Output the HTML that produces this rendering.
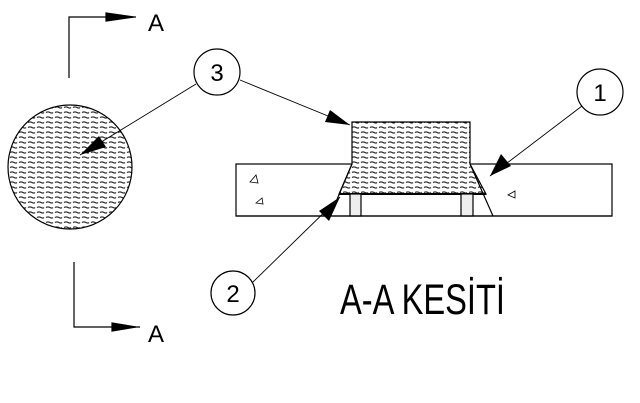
<!DOCTYPE html>
<html><head><meta charset="utf-8"><style>
html,body{margin:0;padding:0;background:#fff;width:640px;height:403px;overflow:hidden}
svg{display:block}
</style></head><body>
<svg width="640" height="403" viewBox="0 0 640 403" xmlns="http://www.w3.org/2000/svg">
<defs>
<pattern id="h" width="9" height="5" patternUnits="userSpaceOnUse">
<rect width="9" height="5" fill="#fff"/>
<path d="M1 2.5 Q3 1.3 5 2.5 T8 2.5" stroke="#222" stroke-width="1.1" fill="none"/>
</pattern>
</defs>
<g stroke="#000" fill="none" stroke-width="1.2">
<polyline points="69,78 69,17 136,17"/>
<polygon points="106,13 134,17 106,21" fill="#000"/>
<polyline points="74,262 74,327 140,327"/>
<polygon points="112,323 136,327 112,331" fill="#000"/>
<circle cx="70" cy="167" r="62" fill="url(#h)"/>
<rect x="236" y="164" width="376" height="52" fill="#fff"/>
<path d="M352,122 H470 V164 L486,194 H339 L352,164 Z" fill="url(#h)"/>
<line x1="352" y1="164" x2="330" y2="216"/>
<line x1="470" y1="164" x2="493" y2="216"/>
<line x1="339" y1="194" x2="486" y2="194" stroke-width="2"/>
<rect x="350" y="194" width="11" height="22" fill="#eee"/>
<rect x="461" y="194" width="12" height="22" fill="#eee"/>
<line x1="236" y1="216" x2="612" y2="216"/>
<circle cx="217" cy="72" r="23" fill="#fff"/>
<circle cx="600" cy="92" r="23" fill="#fff"/>
<circle cx="233" cy="293" r="22" fill="#fff"/>
<g stroke-width="0.9">
<line x1="196" y1="84" x2="80" y2="155"/>
<line x1="240" y1="80" x2="350" y2="125"/>
<line x1="582" y1="106" x2="490" y2="176"/>
<line x1="253" y1="282" x2="340" y2="197"/>
</g>
</g>
<g fill="#000">
<polygon points="80,155 99,136 106,147"/>
<polygon points="350,125 325,122 330,110"/>
<polygon points="490,176 501,154 511,166"/>
<polygon points="340,197 329,221 319,211"/>
</g>
<g fill="none" stroke="#000" stroke-width="0.8">
<polygon points="250,182 256,175 258,183"/>
<polygon points="256,203 262,198 263,204"/>
<polygon points="508,195 515,191 515,198"/>
</g>
<g font-family="Liberation Sans, Arial, sans-serif" fill="#000">
<text x="148" y="31" font-size="24">A</text>
<text x="148" y="342" font-size="24">A</text>
<text x="217" y="81" font-size="24" text-anchor="middle">3</text>
<text x="600" y="101" font-size="24" text-anchor="middle">1</text>
<text x="233" y="302" font-size="24" text-anchor="middle">2</text>
<text x="340" y="314" font-size="43" textLength="165" lengthAdjust="spacingAndGlyphs">A-A KESİTİ</text>
</g>
</svg>
</body></html>
